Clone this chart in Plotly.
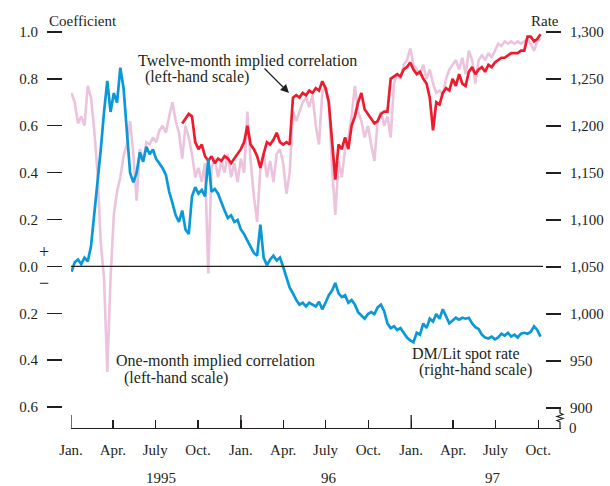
import plotly.graph_objects as go
import pandas as pd

# ---------------- data (weekly readings) ----------------
series_start = "1995-01-02"          # first weekly observation
twelve_month_start = "1995-08-28"    # twelve-month series begins later

spot_rate = [  # DM/Lit spot rate, right-hand scale
    1045, 1055, 1058, 1053, 1060, 1056, 1072, 1105, 1135, 1175,
    1215, 1248, 1215, 1235, 1225, 1262, 1240, 1190, 1150, 1140,
    1150, 1172, 1162, 1178, 1170, 1175, 1165, 1160, 1155, 1148,
    1130, 1118, 1105, 1098, 1110, 1090, 1085, 1125, 1135, 1128,
    1132, 1125, 1165, 1130, 1133, 1128, 1118, 1110, 1102, 1105,
    1098, 1100, 1090, 1085, 1078, 1072, 1065, 1062, 1095, 1060,
    1052, 1058, 1062, 1057, 1060, 1050, 1038, 1028, 1022, 1015,
    1010, 1012, 1008, 1012, 1010, 1008, 1013, 1005, 1012, 1020,
    1025, 1033, 1022, 1018, 1020, 1012, 1015, 1010, 1002, 998,
    995, 1000, 1002, 1000, 1007, 1010, 1003, 990, 985, 987,
    983, 985, 980, 975, 972, 970, 980, 978, 990, 985,
    995, 992, 1000, 995, 1005, 998, 990, 993, 996, 994,
    996, 995, 996, 990, 986, 984, 978, 975, 974, 976,
    973, 975, 979, 977, 980, 976, 978, 975, 979, 980,
    979, 981, 987, 983, 976,
]

one_month = [  # one-month implied correlation, left-hand scale
    0.74, 0.70, 0.61, 0.64, 0.60, 0.77, 0.72, 0.58, 0.40, 0.10,
    -0.05, -0.45, -0.05, 0.22, 0.32, 0.38, 0.47, 0.52, 0.62, 0.48,
    0.28, 0.50, 0.45, 0.53, 0.52, 0.55, 0.53, 0.58, 0.60, 0.57,
    0.64, 0.70, 0.62, 0.57, 0.46, 0.60, 0.55, 0.48, 0.38, 0.42,
    0.36, 0.44, -0.03, 0.42, 0.46, 0.38, 0.45, 0.40, 0.48, 0.38,
    0.44, 0.36, 0.46, 0.40, 0.66, 0.45, 0.30, 0.19, 0.42, 0.48,
    0.38, 0.45, 0.36, 0.48, 0.50, 0.44, 0.31, 0.40, 0.66, 0.62,
    0.66, 0.70, 0.72, 0.68, 0.73, 0.60, 0.52, 0.74, 0.77, 0.70,
    0.42, 0.22, 0.45, 0.38, 0.50, 0.55, 0.64, 0.77, 0.66, 0.62,
    0.55, 0.60, 0.52, 0.45, 0.62, 0.66, 0.60, 0.64, 0.55, 0.78,
    0.82, 0.80, 0.86, 0.88, 0.93, 0.86, 0.84, 0.82, 0.86, 0.80,
    0.84, 0.78, 0.74, 0.75, 0.73, 0.80, 0.84, 0.86, 0.88, 0.84,
    0.89, 0.82, 0.92, 0.88, 0.78, 0.88, 0.90, 0.88, 0.91, 0.89,
    0.92, 0.95, 0.94, 0.96, 0.95, 0.96, 0.95, 0.96, 0.95, 0.96,
    0.97, 0.95, 0.92, 0.96, 0.97,
]

twelve_month = [  # twelve-month implied correlation, left-hand scale
    0.61, 0.63, 0.65, 0.64, 0.53, 0.50, 0.52, 0.47, 0.45, 0.47,
    0.44, 0.46, 0.45, 0.47, 0.46, 0.44, 0.46, 0.48, 0.50, 0.53,
    0.60, 0.52, 0.50, 0.47, 0.42, 0.48, 0.53, 0.52, 0.54, 0.57,
    0.53, 0.52, 0.53, 0.52, 0.72, 0.73, 0.72, 0.74, 0.73, 0.75,
    0.74, 0.76, 0.75, 0.79, 0.76, 0.70, 0.55, 0.37, 0.52, 0.50,
    0.55, 0.50, 0.60, 0.64, 0.70, 0.74, 0.67, 0.65, 0.63, 0.61,
    0.62, 0.65, 0.66, 0.66, 0.80, 0.81, 0.82, 0.81, 0.84, 0.85,
    0.87, 0.84, 0.82, 0.83, 0.80, 0.78, 0.72, 0.58, 0.70, 0.69,
    0.74, 0.76, 0.75, 0.80, 0.77, 0.82, 0.78, 0.77, 0.83, 0.85,
    0.82, 0.84, 0.85, 0.83, 0.86, 0.85, 0.87, 0.88, 0.89, 0.89,
    0.90, 0.91, 0.91, 0.91, 0.92, 0.92, 0.98, 0.98, 0.96, 0.97,
    0.99,
]

quarter_dates = ["1995-01-01", "1995-04-01", "1995-07-01", "1995-10-01",
                 "1996-01-01", "1996-04-01", "1996-07-01", "1996-10-01",
                 "1997-01-01", "1997-04-01", "1997-07-01", "1997-10-01"]
quarter_labels = ["Jan.", "Apr.", "July", "Oct."] * 3
year_starts = ["1995-01-01", "1996-01-01", "1997-01-01"]
year_labels = ["1995", "96", "97"]
year_label_dates = ["1995-07-13", "1996-07-09", "1997-06-25"]

left_ticks = [-0.6, -0.4, -0.2, 0.0, 0.2, 0.4, 0.6, 0.8, 1.0]
left_labels = ["0.6", "0.4", "0.2", "0.0", "0.2", "0.4", "0.6", "0.8", "1.0"]
right_ticks = [900, 950, 1000, 1050, 1100, 1150, 1200, 1250, 1300]
right_labels = ["900", "950", "1,000", "1,050", "1,100", "1,150", "1,200", "1,250", "1,300"]

# ---------------- styling ----------------
INK = "#231f20"
PINK = "#ecc3dc"
RED = "#ec1c2e"
BLUE = "#0a99d6"
FONT = "Liberation Serif"

W, H = 610, 486
L, R, T, B = 62, 49, 20, 58
PW, PH = W - L - R, H - T - B


def px(xp):
    return (xp - L) / PW


def py(yp):
    return (H - B - yp) / PH


weeks = pd.date_range(series_start, periods=len(spot_rate), freq="7D")
weeks12 = pd.date_range(twelve_month_start, periods=len(twelve_month), freq="7D")

fig = go.Figure()
fig.add_trace(go.Scatter(x=weeks[:len(one_month)], y=one_month, mode="lines",
                         line=dict(color=PINK, width=2.6), yaxis="y",
                         hoverinfo="skip"))
fig.add_trace(go.Scatter(x=weeks12, y=twelve_month, mode="lines",
                         line=dict(color=RED, width=2.7), yaxis="y",
                         hoverinfo="skip"))
fig.add_trace(go.Scatter(x=weeks, y=spot_rate, mode="lines",
                         line=dict(color=BLUE, width=2.7), yaxis="y2",
                         hoverinfo="skip"))

fig.update_layout(
    template="none",
    width=W, height=H,
    margin=dict(l=L, r=R, t=T, b=B, pad=0),
    paper_bgcolor="white", plot_bgcolor="white",
    showlegend=False,
    font=dict(family=FONT, size=15, color=INK),
    xaxis=dict(
        type="date", range=["1995-01-01", "1997-11-19"],
        domain=[px(71), 1], anchor="y",
        showline=True, linecolor=INK, linewidth=1.3,
        ticks="inside", ticklen=8, tickwidth=1.3, tickcolor=INK,
        tickvals=quarter_dates, ticktext=quarter_labels,
        ticklabelstandoff=8,
        showgrid=False, zeroline=False, automargin=False,
    ),
    yaxis=dict(
        range=[-0.6 - 21 / 235, 1.0 + 12 / 235],
        anchor="free", position=0, side="left",
        ticks="outside", ticklen=15, tickwidth=1.5, tickcolor=INK,
        tickvals=left_ticks, ticktext=left_labels,
        ticklabelstandoff=6,
        showline=False, showgrid=False, zeroline=False, automargin=False,
    ),
    yaxis2=dict(
        range=[1050 - 161 * 50 / 47, 1050 + 247 * 50 / 47],
        overlaying="y", anchor="free", position=px(545), side="right",
        ticks="outside", ticklen=15, tickwidth=1.5, tickcolor=INK,
        tickvals=right_ticks, ticktext=right_labels,
        ticklabelstandoff=6,
        showline=False, showgrid=False, zeroline=False, automargin=False,
    ),
)

shapes = [
    dict(type="line", xref="paper", yref="y", x0=px(71), x1=px(543), y0=0, y1=0,
         line=dict(color=INK, width=1.2)),
]
for d in year_starts:
    shapes.append(dict(type="line", xref="x", yref="paper", x0=d, x1=d,
                       y0=0, y1=13 / PH, line=dict(color=INK, width=1.3)))
# axis break symbol on the right-hand scale
brk = [(560, 408.5), (560, 413), (563, 414.5), (557, 416.5), (563, 418.5),
       (557, 420.5), (560, 422), (560, 428)]
path = "M " + " L ".join(f"{px(a):.5f},{py(b):.5f}" for a, b in brk)
shapes.append(dict(type="path", xref="paper", yref="paper", path=path,
                   line=dict(color=INK, width=1.2)))
fig.update_layout(shapes=shapes)

ann = []


def text(t, x, y, xanchor="left", yanchor="middle", size=15):
    ann.append(dict(text=t, x=x, y=y, xref="paper", yref="paper",
                    xanchor=xanchor, yanchor=yanchor, showarrow=False,
                    font=dict(family=FONT, size=size, color=INK)))


text("Coefficient", px(47), py(21))
text("Rate", px(561), py(21), xanchor="right")
text("+", px(44), py(252), xanchor="center", size=18)
text("\u2212", px(44), py(283), xanchor="center", size=18)
text("0", px(567), py(428))
text("Twelve-month implied correlation", px(136), py(61), size=16)
text("(left-hand scale)", px(143), py(77), size=16)
text("One-month implied correlation", px(114), py(361), size=16)
text("(left-hand scale)", px(122), py(378), size=16)
text("DM/Lit spot rate", px(410), py(354), size=16)
text("(right-hand scale)", px(417), py(370), size=16)
for lbl, d in zip(year_labels, year_label_dates):
    ann.append(dict(text=lbl, x=d, y=py(478), xref="x", yref="paper",
                    xanchor="center", yanchor="middle", showarrow=False,
                    font=dict(family=FONT, size=15, color=INK)))
# arrow pointing to the twelve-month series
ann.append(dict(text="", x=px(289), y=py(93), xref="paper", yref="paper",
                showarrow=True, ax=-26, ay=-26, arrowhead=2, arrowsize=1.4,
                arrowwidth=1.2, arrowcolor=INK, standoff=0))
fig.update_layout(annotations=ann)

fig.write_html("out.html",
               config={"displayModeBar": False, "staticPlot": True},
               post_script="document.body.style.margin='0px';"
                           "document.body.style.padding='0px';")
